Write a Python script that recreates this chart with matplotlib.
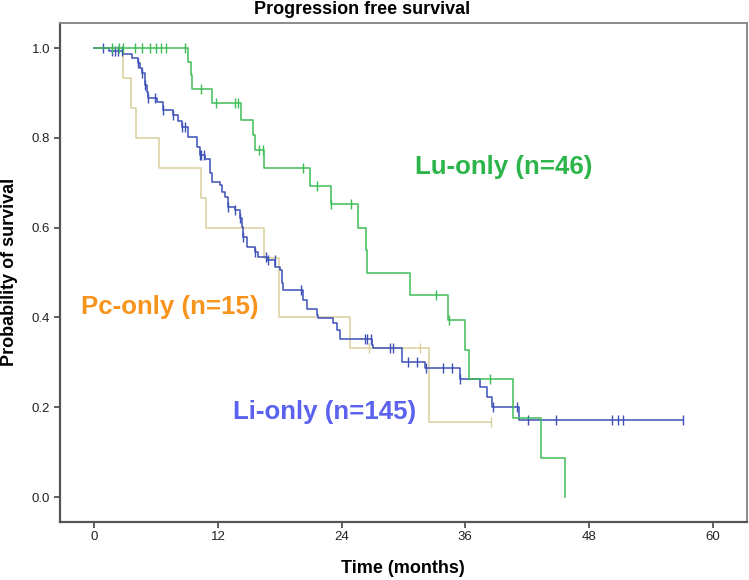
import numpy as np
import matplotlib
matplotlib.use("Agg")
import matplotlib.pyplot as plt

plt.rcParams['font.family'] = ['Liberation Sans', 'DejaVu Sans']

# Lu-only (n=46): step times (months) and survival after each step
lu_t = [0, 9.1, 9.4, 9.5, 11.45, 14.23, 15.36, 15.59, 16.46, 20.92, 22.93,
        25.55, 26.35, 26.5, 30.6, 34.3, 36.0, 36.4, 40.6, 43.3, 45.7]
lu_s = [1.0, 0.970, 0.940, 0.910, 0.878, 0.841, 0.806, 0.773, 0.734, 0.693, 0.652,
        0.600, 0.550, 0.500, 0.450, 0.394, 0.327, 0.263, 0.175, 0.0875, 0.0]
lu_cens = [1.7, 2.4, 2.8, 3.9, 4.6, 5.4, 6.0, 6.5, 7.0, 8.8, 10.35, 11.8, 13.65,
           13.97, 15.97, 16.4, 20.27, 21.57, 23.0, 24.9, 33.2, 34.4, 38.4]

# Pc-only (n=15)
pc_t = [0, 2.8, 3.6, 4.05, 6.3, 10.4, 10.83, 16.46, 17.9, 24.85, 32.5]
pc_s = [1.0, 0.933, 0.867, 0.800, 0.733, 0.667, 0.600, 0.533, 0.400, 0.333, 0.167]
pc_cens = [26.7, 31.6, 38.5]

# Li-only (n=145)
li_t = [0, 1.4, 2.81, 3.63, 4.27, 4.45, 4.60, 4.92, 5.1, 5.24, 6.05, 6.69, 7.66,
        8.1, 8.48, 9.12, 9.93, 10.25, 10.74, 11.22, 11.39, 12.19, 12.36, 12.68,
        13.0, 13.65, 14.13, 14.3, 14.45, 14.78, 15.59, 15.9, 16.72, 17.53, 18.0,
        18.2, 18.33, 20.27, 20.6, 21.57, 21.73, 23.18, 23.5, 23.83, 26.9, 27.06,
        29.9, 32.08, 35.47, 37.4, 38.06, 38.55, 41.2]
li_s = [1.0, 0.993, 0.986, 0.979, 0.966, 0.955, 0.944, 0.918, 0.903, 0.888, 0.880,
        0.862, 0.851, 0.838, 0.825, 0.802, 0.780, 0.762, 0.754, 0.721, 0.702,
        0.695, 0.680, 0.669, 0.647, 0.639, 0.621, 0.602, 0.580, 0.557, 0.546,
        0.535, 0.528, 0.513, 0.506, 0.477, 0.461, 0.439, 0.420, 0.405, 0.398,
        0.387, 0.372, 0.353, 0.339, 0.331, 0.301, 0.287, 0.264, 0.246, 0.223,
        0.200, 0.171]
li_cens = [0.8, 1.7, 2.0, 2.3, 2.65, 4.27, 4.6, 4.92, 5.24, 5.9, 6.7, 7.66, 8.48,
           8.8, 10.25, 10.4, 10.6, 13.0, 13.65, 14.13, 14.45, 15.59, 16.7, 16.85,
           17.5, 20.1, 26.3, 26.5, 26.8, 28.7, 29.0, 30.45, 31.3, 32.2, 33.8, 34.7,
           35.47, 38.65, 41.05, 42.1, 44.8, 50.2, 50.8, 51.3, 57.1]

groups = [
    ("Pc-only (n=15)", pc_t, pc_s, pc_cens, "#d9d09c", "#f7941d", (-1.3, 0.424)),
    ("Li-only (n=145)", li_t, li_s, li_cens, "#3d50b8", "#5b62ee", (13.5, 0.19)),
    ("Lu-only (n=46)", lu_t, lu_s, lu_cens, "#3dbd55", "#2bb54a", (31.1, 0.735)),
]

fig = plt.figure(figsize=(7.49, 5.8), dpi=100)
ax = fig.add_axes([0.0801, 0.1005, 0.9168, 0.8598])

for label, t, s, cens, lc, tc, pos in groups:
    t = np.array(t)
    s = np.array(s)
    end = max(t[-1], max(cens))
    tt = np.append(t, end)
    ss = np.append(s, s[-1])
    ax.plot(tt, ss, drawstyle='steps-post', color=lc, lw=1.1)
    idx = np.searchsorted(t, cens, side='right') - 1
    ax.plot(cens, s[idx], ls='none', marker='|', ms=6.5, mew=1.0, color=lc)
    ax.text(pos[0], pos[1], label, color=tc, fontsize=18.6, fontweight='bold',
            va='center', ha='left')

ax.set_xlim(-3.33, 63.3)
ax.set_ylim(-0.055, 1.056)
ax.set_xticks([0, 12, 24, 36, 48, 60])
ax.set_yticks([0.0, 0.2, 0.4, 0.6, 0.8, 1.0])
ax.set_yticklabels(["0.0", "0.2", "0.4", "0.6", "0.8", "1.0"])
ax.tick_params(direction='out', length=4, width=1.2, color='#444444',
               labelsize=9.5, labelcolor='#222222', pad=3)

for side in ['left', 'bottom']:
    ax.spines[side].set_color('#555555')
    ax.spines[side].set_linewidth(1.6)
for side in ['top', 'right']:
    ax.spines[side].set_color('#8a8a8a')
    ax.spines[side].set_linewidth(1.4)

ax.set_xlabel("Time (months)", fontsize=13, fontweight='bold', labelpad=12)
ax.set_ylabel("Probability of survival", fontsize=13, fontweight='bold', labelpad=10)
fig.text(0.483, 0.983, "Progression free survival", fontsize=13, fontweight='bold',
         ha='center', va='center')

fig.savefig("out.png", dpi=100)
